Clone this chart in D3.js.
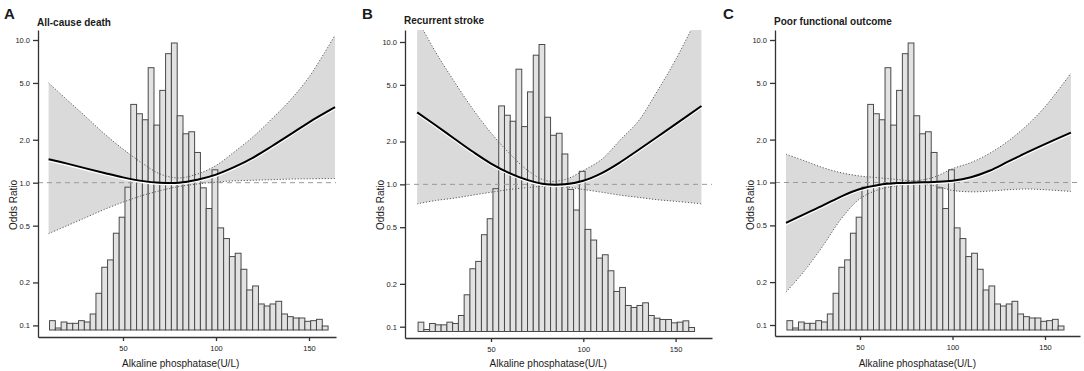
<html>
<head>
	<title>ALP and outcomes</title>
	<style>
		body { margin: 0; background: white; }
		text { font-family: Arial, "Liberation Sans", sans-serif; fill: #1a1a1a; }
		.axis path, .axis line { stroke: #333; stroke-width: 1.3; }
		.axis text { font-size: 7.5px; }
	</style>
</head>
<body>

	<svg id="chart" width="1084" height="371"></svg>

	<script src="https://d3js.org/d3.v7.min.js"></script>
	<script>

		// ALP histogram (same in all three panels)
		var binStart = 10.5
		var binWidth = 3.12
		var binCounts = [14, 3, 12, 10, 10, 14, 12, 24, 55, 94,
			105, 145, 169, 214, 338, 324, 315, 393, 307, 359,
			414, 430, 321, 294, 297, 266, 213, 182, 240, 153,
			137, 110, 115, 91, 60, 66, 39, 36, 39, 43,
			24, 20, 18, 18, 13, 14, 16, 6]

		var alpGrid = [10, 20, 30, 40, 50, 60, 70, 80, 90, 100, 110, 120, 130, 140, 150, 164]

		// A - all-cause death
		var orDeath    = [1.46, 1.36, 1.26, 1.17, 1.09, 1.03, 1.00, 1.00, 1.05, 1.14, 1.29, 1.50, 1.80, 2.18, 2.65, 3.38]
		var upperDeath = [5.0, 3.8, 2.9, 2.2, 1.72, 1.38, 1.15, 1.08, 1.15, 1.32, 1.65, 2.1, 2.8, 3.8, 5.5, 10.8]
		var lowerDeath = [0.44, 0.50, 0.57, 0.65, 0.73, 0.81, 0.88, 0.94, 0.98, 1.01, 1.03, 1.04, 1.05, 1.06, 1.065, 1.07]

		// B - recurrent stroke
		var orStroke    = [3.2, 2.6, 2.1, 1.7, 1.4, 1.2, 1.07, 1.0, 1.0, 1.06, 1.2, 1.43, 1.75, 2.15, 2.65, 3.55]
		var upperStroke = [14.5, 8.5, 5.3, 3.4, 2.3, 1.65, 1.25, 1.06, 1.08, 1.25, 1.5, 2.05, 2.8, 4.5, 7.5, 17]
		var lowerStroke = [0.73, 0.77, 0.80, 0.84, 0.88, 0.92, 0.95, 0.97, 0.96, 0.92, 0.88, 0.84, 0.81, 0.78, 0.76, 0.73]

		// C - poor functional outcome
		var orPoor    = [0.52, 0.60, 0.69, 0.80, 0.90, 0.96, 0.99, 1.0, 1.01, 1.03, 1.09, 1.21, 1.40, 1.62, 1.86, 2.24]
		var upperPoor = [1.58, 1.42, 1.27, 1.17, 1.11, 1.08, 1.05, 1.03, 1.09, 1.25, 1.38, 1.6, 1.95, 2.5, 3.4, 5.84]
		var lowerPoor = [0.17, 0.24, 0.36, 0.56, 0.77, 0.89, 0.95, 0.98, 0.95, 0.88, 0.86, 0.87, 0.89, 0.90, 0.89, 0.865]

		var yTicks = [0.1, 0.2, 0.5, 1, 2, 5, 10]
		var xTicks = [50, 100, 150]

		// where each panel sits on the page
		var panels = [
			{letter: 'A', title: 'All-cause death', est: orDeath, upper: upperDeath, lower: lowerDeath,
				letterX: 4, titleY: 26, x0: 30, k: 1.86, axisL: 38, axisR: 336, axisY: 337, top: 30, y10: 40, y01: 325.4, base: 330},
			{letter: 'B', title: 'Recurrent stroke', est: orStroke, upper: upperStroke, lower: lowerStroke,
				letterX: 362, titleY: 24, x0: 398.7, k: 1.846, axisL: 405, axisR: 712, axisY: 338, top: 30, y10: 42, y01: 326.7, base: 331.5},
			{letter: 'C', title: 'Poor functional outcome', est: orPoor, upper: upperPoor, lower: lowerPoor,
				letterX: 723, titleY: 24.5, x0: 767.5, k: 1.85, axisL: 775, axisR: 1080, axisY: 336, top: 30, y10: 40, y01: 325, base: 330}
		]

		let svg = d3.select('#chart')

		panels.forEach(function(p, pi) {

			let x = d3.scaleLinear().domain([0, 150]).range([p.x0, p.x0 + 150 * p.k])
			let y = d3.scaleLog().domain([0.1, 10]).range([p.y01, p.y10])
			let h = d3.scaleLinear().domain([0, 430]).range([p.base, p.base - 287])   // histogram counts

			let g = svg.append('g')

			let clipId = 'clip' + pi
			svg.append('clipPath').attr('id', clipId)
				.append('rect')
				.attr('x', p.axisL).attr('y', p.top)
				.attr('width', p.axisR - p.axisL)
				.attr('height', p.axisY - p.top)

			let smooth = d3.curveCatmullRom.alpha(0.5)

			// confidence band
			let band = d3.area()
				.x((d, i) => x(alpGrid[i]))
				.y0((d, i) => y(p.lower[i]))
				.y1((d, i) => y(p.upper[i]))
				.curve(smooth)

			g.append('path')
				.datum(alpGrid)
				.attr('d', band)
				.attr('fill', '#dadada')
				.attr('clip-path', 'url(#' + clipId + ')')

			// histogram
			g.selectAll('rect.bar')
				.data(binCounts)
				.enter().append('rect')
				.attr('class', 'bar')
				.attr('x', (d, i) => x(binStart + i * binWidth))
				.attr('width', x(binWidth) - x(0))
				.attr('y', d => h(d))
				.attr('height', d => h(0) - h(d))
				.attr('fill', '#e2e2e2')
				.attr('stroke', '#4a4a4a')
				.attr('stroke-width', 1)

			// reference line at OR = 1
			g.append('line')
				.attr('x1', p.axisL).attr('x2', p.axisR)
				.attr('y1', y(1)).attr('y2', y(1))
				.attr('stroke', '#999')
				.attr('stroke-width', 1)
				.attr('stroke-dasharray', '5,4')

			// dotted CI limits
			let ciLine = function(vals) {
				return d3.line()
					.x((d, i) => x(alpGrid[i]))
					.y((d, i) => y(vals[i]))
					.curve(smooth)
			}
			;[p.upper, p.lower].forEach(function(vals) {
				g.append('path')
					.datum(alpGrid)
					.attr('d', ciLine(vals))
					.attr('fill', 'none')
					.attr('stroke', '#5a5a5a')
					.attr('stroke-width', 1)
					.attr('stroke-dasharray', '1.2,1.8')
					.attr('clip-path', 'url(#' + clipId + ')')
			})

			// spline estimate (white edge underneath like the original)
			g.append('path')
				.datum(alpGrid)
				.attr('d', ciLine(p.est))
				.attr('fill', 'none')
				.attr('stroke', 'white')
				.attr('stroke-width', 1.5)
				.attr('transform', 'translate(0,1.6)')
			g.append('path')
				.datum(alpGrid)
				.attr('d', ciLine(p.est))
				.attr('fill', 'none')
				.attr('stroke', 'black')
				.attr('stroke-width', 2)

			// axes
			let yAxisScale = d3.scaleLog()
				.domain([y.invert(p.axisY), y.invert(p.top)])
				.range([p.axisY, p.top])
			g.append('g')
				.attr('class', 'axis')
				.attr('transform', 'translate(' + p.axisL + ',0)')
				.call(d3.axisLeft(yAxisScale).tickValues(yTicks).tickFormat(d3.format('.1f'))
					.tickSize(5).tickSizeOuter(0).tickPadding(3))

			let xAxisScale = d3.scaleLinear()
				.domain([x.invert(p.axisL), x.invert(p.axisR)])
				.range([p.axisL, p.axisR])
			g.append('g')
				.attr('class', 'axis')
				.attr('transform', 'translate(0,' + p.axisY + ')')
				.call(d3.axisBottom(xAxisScale).tickValues(xTicks)
					.tickSize(4).tickSizeOuter(0).tickPadding(5))

			g.selectAll('.axis text').attr('fill', '#1a1a1a')

			// labels
			g.append('text')
				.attr('x', p.letterX).attr('y', 19)
				.style('font-size', '15px').style('font-weight', 'bold')
				.text(p.letter)

			g.append('text')
				.attr('x', p.axisL - 1).attr('y', p.titleY)
				.style('font-size', '10px').style('font-weight', 'bold')
				.text(p.title)

			g.append('text')
				.attr('transform', 'translate(' + (p.axisL - 21) + ',' + 205 + ') rotate(-90)')
				.attr('text-anchor', 'middle')
				.style('font-size', '10px')
				.text('Odds Ratio')

			g.append('text')
				.attr('x', x(81)).attr('y', 366.5)
				.attr('text-anchor', 'middle')
				.style('font-size', '10px')
				.text('Alkaline phosphatase(U/L)')
		})

	</script>
</body>
</html>
